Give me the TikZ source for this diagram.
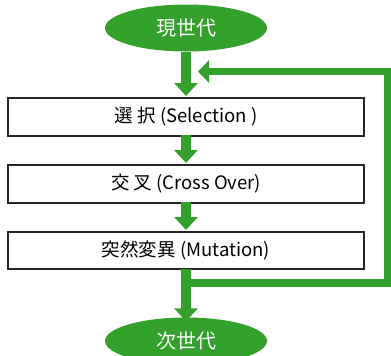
\documentclass[tikz,border=0pt]{standalone}
\usepackage{fontspec}
\setmainfont{Noto Sans CJK JP}
\usetikzlibrary{arrows.meta,shapes.geometric}
\definecolor{ggreen}{RGB}{52,160,44}
\tikzset{
  gen/.style={ellipse, fill=ggreen, text=white, minimum width=162pt, minimum height=47pt, inner sep=0pt, font=\fontsize{20}{24}\selectfont},
  stage/.style={rectangle, draw=black!85, line width=2pt, fill=white, minimum width=356pt, inner sep=0pt, font=\fontsize{18.5}{22}\selectfont},
  garrow/.style={draw=ggreen, line width=9.5pt, -{Triangle[width=23pt,length=13pt]}},
  gline/.style={draw=ggreen, line width=7.5pt, line join=miter, -{Triangle[width=22pt,length=11pt]}}
}
\newcommand{\lowtxt}[1]{\raisebox{-2pt}{#1}}
\begin{document}
\begin{tikzpicture}[x=1pt,y=-1pt]
\useasboundingbox (0,0) rectangle (391,356);
\node[gen] (cur) at (186,28) {\lowtxt{現世代}};
\node[stage, minimum height=38pt] (sel) at (186,117) {\lowtxt{選 択 (Selection )}};
\node[stage, minimum height=38pt] (cross) at (186,184) {\lowtxt{交 叉 (Cross Over)}};
\node[stage, minimum height=37pt] (mut) at (186,250.5) {\lowtxt{突然変異 (Mutation)}};
\node[gen] (nxt) at (186,341) {次世代};
\coordinate (fbs) at (190,283);
\coordinate (fbr) at (387.5,283);
\coordinate (fbt) at (387.5,71.5);
\coordinate (fbe) at (198,71.5);
\draw[gline] (fbs) -- (fbr) -- (fbt) -- (fbe);
\draw[garrow] (cur.south) -- ([yshift=1pt]sel.north);
\draw[garrow] ([yshift=2pt]sel.south) -- ([yshift=1pt]cross.north);
\draw[garrow] ([yshift=2pt]cross.south) -- ([yshift=1pt]mut.north);
\draw[garrow] ([yshift=1pt]mut.south) -- ([yshift=-4pt]nxt.north);
\end{tikzpicture}
\end{document}
